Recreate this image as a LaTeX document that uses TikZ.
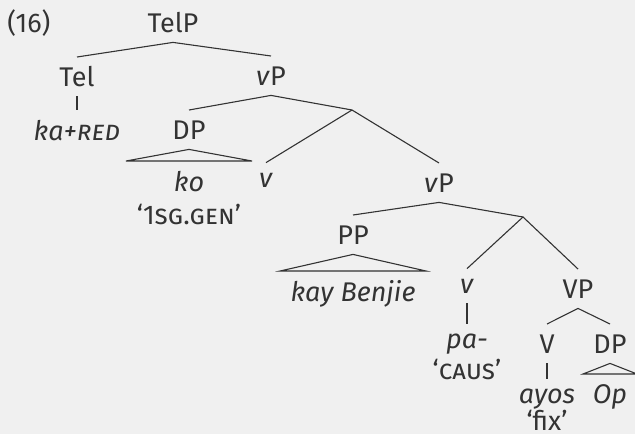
\documentclass[tikz,border=0pt]{standalone}
\usepackage{fontspec}
\setmainfont{Fira Sans}
\usetikzlibrary{calc}
\definecolor{bg}{HTML}{F0F0F0}
\definecolor{ink}{HTML}{333333}
\begin{document}
\begin{tikzpicture}[x=0.5pt,y=-0.5pt,
  lab/.style={anchor=base, inner xsep=0pt, inner ysep=5pt, text=ink, text depth=0pt, text height=9.3pt, font=\fontsize{13.5}{15}\selectfont},
  asc/.style={lab, text height=9.8pt},
  low/.style={lab, text height=7pt},
  gloss/.style={lab, inner ysep=1pt},
  edge/.style={draw=ink, line width=0.55pt}]
\fill[bg] (0,0) rectangle (635,434);
\useasboundingbox (0,0) rectangle (635,434);
\clip (0,0) rectangle (635,434);
% labels
\node[lab, anchor=base west] (ex) at (7,32) {(16)};
\node[lab] (telp) at (173,32) {TelP};
\node[lab] (tel) at (77,86) {Tel};
\node[asc] (kared) at (77,140) {\textit{ka+\textsc{red}}};
\node[lab] (vp1) at (271,85) {\textit{v}P};
\coordinate (vbar1) at (352,110);
\node[lab] (dp1) at (189,139) {DP};
\node[asc] (ko) at (189,191) {\textit{ko}};
\node[gloss] (gen) at (189,224) {`\textsc{1sg.gen}'};
\node[low] (v1) at (266,187) {\textit{v}};
\node[lab] (vp2) at (439,192) {\textit{v}P};
\coordinate (vbar2) at (523,217);
\node[lab] (pp) at (353,244) {PP};
\node[asc] (kay) at (353,301) {\textit{kay Benjie}};
\node[low] (v2) at (467,293) {\textit{v}};
\node[low] (pa) at (467,348) {\textit{pa-}};
\node[gloss] (caus) at (467,379) {`\textsc{caus}'};
\node[lab] (bigvp) at (578,298) {VP};
\node[lab] (bigv) at (547,353) {V};
\node[lab] (dp2) at (610,353) {DP};
\node[low] (ayos) at (547,403) {\textit{ayos}};
\node[gloss] (fix) at (547,430) {`fix'};
\node[lab] (op) at (610,403) {\textit{Op}};
% edges
\draw[edge] (tel.north) -- (telp.south) -- (vp1.north);
\draw[edge] (tel.south) -- (kared.north);
\draw[edge] (dp1.north) -- (vp1.south) -- (vbar1);
\draw[edge] (v1.north) -- (vbar1) -- (vp2.north);
\draw[edge] (dp1.south) -- ($(ko.north)+(-63,0)$) -- ($(ko.north)+(63,0)$) -- cycle;
\draw[edge] (pp.north) -- (vp2.south) -- (vbar2);
\draw[edge] (v2.north) -- (vbar2) -- (bigvp.north);
\draw[edge] (pp.south) -- ($(kay.north)+(-73,0)$) -- ($(kay.north)+(73,0)$) -- cycle;
\draw[edge] (v2.south) -- (pa.north);
\draw[edge] (bigv.north) -- (bigvp.south) -- (dp2.north);
\draw[edge] (bigv.south) -- (ayos.north);
\draw[edge] (dp2.south) -- ($(op.north)+(-27,0)$) -- ($(op.north)+(27,0)$) -- cycle;
\end{tikzpicture}
\end{document}
